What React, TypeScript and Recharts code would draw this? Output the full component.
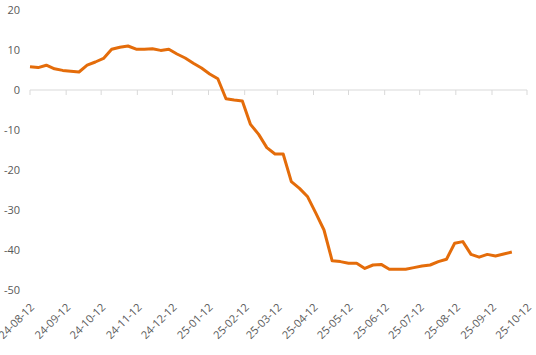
import React from 'react'
import {
  LineChart,
  Line,
  XAxis,
  YAxis,
  ReferenceLine,
} from 'recharts'

// weekly observations
const weeks = [
  '2024-08-12', '2024-08-19', '2024-08-26', '2024-09-02', '2024-09-09',
  '2024-09-16', '2024-09-23', '2024-09-30', '2024-10-07', '2024-10-14',
  '2024-10-21', '2024-10-28', '2024-11-04', '2024-11-11', '2024-11-18',
  '2024-11-25', '2024-12-02', '2024-12-09', '2024-12-16', '2024-12-23',
  '2024-12-30', '2025-01-06', '2025-01-13', '2025-01-20', '2025-01-27',
  '2025-02-03', '2025-02-10', '2025-02-17', '2025-02-24', '2025-03-03',
  '2025-03-10', '2025-03-17', '2025-03-24', '2025-03-31', '2025-04-07',
  '2025-04-14', '2025-04-21', '2025-04-28', '2025-05-05', '2025-05-12',
  '2025-05-19', '2025-05-26', '2025-06-02', '2025-06-09', '2025-06-16',
  '2025-06-23', '2025-06-30', '2025-07-07', '2025-07-14', '2025-07-21',
  '2025-07-28', '2025-08-04', '2025-08-11', '2025-08-18', '2025-08-25',
  '2025-09-01', '2025-09-08', '2025-09-15', '2025-09-22', '2025-09-29',
]

const values = [
  5.8, 5.6, 6.2, 5.3, 4.9, 4.7, 4.5, 6.2, 7.0, 7.9,
  10.2, 10.7, 11.0, 10.2, 10.2, 10.3, 9.9, 10.2, 9.0, 8.0,
  6.7, 5.5, 4.0, 2.8, -2.2, -2.5, -2.75, -8.6, -11.1, -14.4,
  -16, -16, -22.9, -24.6, -26.7, -30.8, -35, -42.7, -42.9, -43.3,
  -43.3, -44.6, -43.75, -43.6, -44.8, -44.8, -44.8, -44.4, -44.0, -43.75,
  -42.9, -42.3, -38.3, -37.9, -41.1, -41.8, -41.1, -41.5, -41.0, -40.5,
]

// monthly axis ticks
const tickDates = [
  '2024-08-12', '2024-09-12', '2024-10-12', '2024-11-12', '2024-12-12',
  '2025-01-12', '2025-02-12', '2025-03-12', '2025-04-12', '2025-05-12',
  '2025-06-12', '2025-07-12', '2025-08-12', '2025-09-12', '2025-10-12',
]

const yTicks = [20, 10, 0, -10, -20, -30, -40, -50]

const toMs = (d: string) => Date.parse(d + 'T00:00:00Z')

const data = weeks.map((w, i) => ({ t: toMs(w), v: values[i] }))
const xTicks = tickDates.map(toMs)
const labelOf = (ms: number) => {
  const d = tickDates[xTicks.indexOf(ms)]
  return d ? d.slice(2) : ''
}

const FONT = '"Open Sans", "Noto Sans", sans-serif'
const LABEL = '#595959'
const AXIS = '#d9d9d9'
const ORANGE = '#E46C0A'

const DateTick = (props: any) => {
  const { x, y, payload } = props
  return (
    <g transform={`translate(${x + 5},${y + 18})`}>
      <text
        x={0}
        y={0}
        textAnchor="end"
        transform="rotate(-45)"
        fontSize={11}
        fill={LABEL}
        fontFamily={FONT}
      >
        {labelOf(payload.value)}
      </text>
    </g>
  )
}

export default function App() {
  return (
    <div style={{ position: 'absolute', left: 0, top: 0, background: '#fff' }}>
      <LineChart
        width={536}
        height={355}
        data={data}
        margin={{ top: 10, right: 9, left: 0, bottom: 0 }}
        style={{ fontFamily: FONT }}
      >
        <XAxis
          dataKey="t"
          type="number"
          scale="linear"
          domain={[xTicks[0], xTicks[xTicks.length - 1]]}
          ticks={xTicks}
          interval={0}
          axisLine={false}
          tickLine={false}
          tickSize={0}
          tickMargin={0}
          height={65}
          tick={<DateTick />}
        />
        <YAxis
          type="number"
          domain={[-50, 20]}
          ticks={yTicks}
          interval={0}
          axisLine={false}
          tickLine={false}
          tickSize={0}
          tickMargin={10}
          width={30}
          tick={{ fontSize: 11, fill: LABEL, fontFamily: FONT }}
        />
        <ReferenceLine y={0} stroke={AXIS} strokeWidth={1} />
        {xTicks.map((t) => (
          <ReferenceLine
            key={t}
            segment={[
              { x: t, y: 0 },
              { x: t, y: -1.25 },
            ]}
            stroke={AXIS}
            strokeWidth={1}
          />
        ))}
        <Line
          type="linear"
          dataKey="v"
          stroke={ORANGE}
          strokeWidth={3}
          strokeLinejoin="round"
          dot={false}
          isAnimationActive={false}
        />
      </LineChart>
    </div>
  )
}
